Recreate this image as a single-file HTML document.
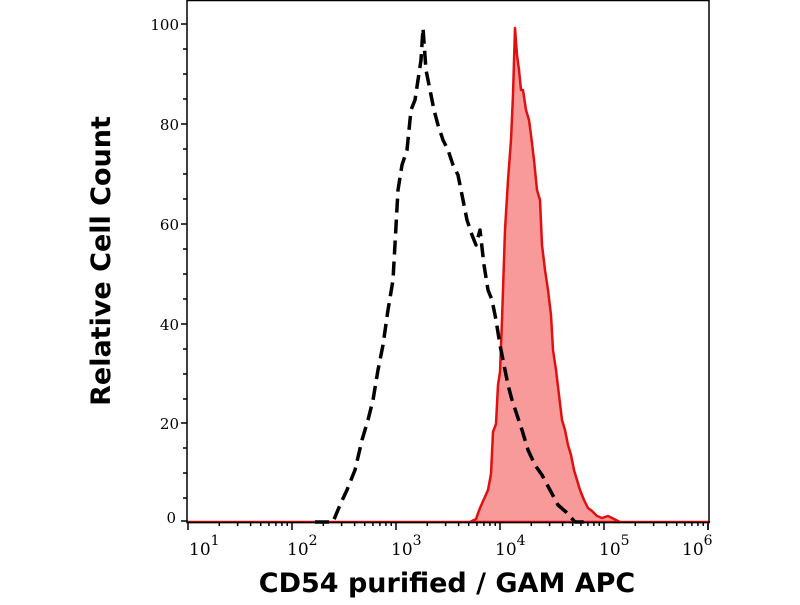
<!DOCTYPE html>
<html><head><style>body{margin:0;background:#fff}</style></head><body>
<svg width="800" height="600" viewBox="0 0 800 600" xmlns="http://www.w3.org/2000/svg">
<rect x="0" y="0" width="800" height="600" fill="#fff"/>
<polygon fill="#f89a9a" stroke="#e01010" stroke-width="2.5" stroke-linejoin="round" points="188,522 470,522 476,519 480,508 484,499 488,490 491,474 493,432 496,424 498,385 500,372 502,320 505,230 508,180 511,140 513,95 515,28 517,55 519,70 521,90 523,90 526,110 529,120 531,135 534,160 537,190 540,200 542,245 545,270 548,290 551,315 553,350 556,370 559,395 562,420 565,430 568,445 571,455 574,470 577,480 580,490 584,500 588,508 592,511 597,516 602,518 608,516 614,519 620,522 709,522"/>
<polyline fill="none" stroke="#000" stroke-width="3.5" stroke-dasharray="14,7" stroke-linejoin="round" points="315,522 333,522 340,505 347,490 355,470 362,440 368,420 373,400 378,370 383,345 388,310 393,280 398,190 402,165 407,150 411,110 415,100 418,80 421,60 423,28 426,70 430,90 434,110 438,125 443,140 448,150 453,165 458,175 462,195 467,220 472,235 476,245 480,230 484,265 488,290 492,300 496,320 500,345 504,365 508,385 512,400 517,415 522,430 528,450 535,465 542,475 550,490 558,505 566,512 575,522 585,522"/>
<rect x="187" y="0.5" width="522" height="522" fill="none" stroke="#000" stroke-width="1.5"/>
<g stroke="#000" stroke-width="1.5">
<line x1="181" y1="24" x2="187" y2="24"/><line x1="181" y1="124" x2="187" y2="124"/><line x1="181" y1="224" x2="187" y2="224"/><line x1="181" y1="324" x2="187" y2="324"/><line x1="181" y1="423" x2="187" y2="423"/><line x1="181" y1="521" x2="187" y2="521"/>
<line x1="183" y1="49" x2="187" y2="49"/><line x1="183" y1="74" x2="187" y2="74"/><line x1="183" y1="99" x2="187" y2="99"/>
<line x1="183" y1="149" x2="187" y2="149"/><line x1="183" y1="174" x2="187" y2="174"/><line x1="183" y1="199" x2="187" y2="199"/>
<line x1="183" y1="249" x2="187" y2="249"/><line x1="183" y1="274" x2="187" y2="274"/><line x1="183" y1="299" x2="187" y2="299"/>
<line x1="183" y1="349" x2="187" y2="349"/><line x1="183" y1="374" x2="187" y2="374"/><line x1="183" y1="399" x2="187" y2="399"/>
<line x1="183" y1="448" x2="187" y2="448"/><line x1="183" y1="473" x2="187" y2="473"/><line x1="183" y1="498" x2="187" y2="498"/>
</g>
<g stroke="#000" stroke-width="1.5" id="xt"></g>
<g font-family="DejaVu Serif, serif" font-size="15" fill="#000" text-anchor="end">
<text x="179" y="30">100</text><text x="179" y="130">80</text><text x="179" y="230">60</text><text x="179" y="330">40</text><text x="179" y="429">20</text><text x="176" y="523">0</text>
</g>
<g font-family="DejaVu Serif, serif" font-size="17" fill="#000">
<text x="189" y="555">10<tspan font-size="14" dy="-10">1</tspan></text>
<text x="287" y="555">10<tspan font-size="14" dy="-10">2</tspan></text>
<text x="391" y="555">10<tspan font-size="14" dy="-10">3</tspan></text>
<text x="495" y="555">10<tspan font-size="14" dy="-10">4</tspan></text>
<text x="599" y="555">10<tspan font-size="14" dy="-10">5</tspan></text>
<text x="682" y="555">10<tspan font-size="14" dy="-10">6</tspan></text>
</g>
<text x="447" y="592" text-anchor="middle" font-family="DejaVu Sans, sans-serif" font-weight="bold" font-size="27">CD54 purified / GAM APC</text>
<text transform="translate(110,261) rotate(-90)" text-anchor="middle" font-family="DejaVu Sans, sans-serif" font-weight="bold" font-size="27">Relative Cell Count</text>
</svg>
<script>
var g=document.getElementById('xt'),s='';
for(var d=0;d<6;d++){var x0=188+d*104;
 s+='<line x1="'+x0+'" y1="522" x2="'+x0+'" y2="530"/>';
 if(d<5)for(var k=2;k<10;k++){var x=x0+104*Math.log10(k);s+='<line x1="'+x+'" y1="522" x2="'+x+'" y2="526"/>';}}
s+='<line x1="708" y1="522" x2="708" y2="530"/>';
g.innerHTML=s;
</script>
</body></html>
